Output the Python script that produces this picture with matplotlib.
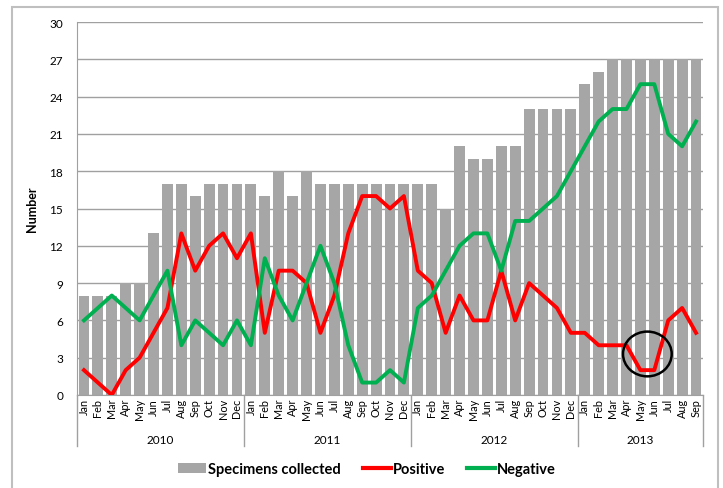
import matplotlib
matplotlib.use("Agg")
import matplotlib.pyplot as plt
from matplotlib.patches import Ellipse, Rectangle, Patch
from matplotlib.lines import Line2D
import matplotlib.transforms as mtransforms

plt.rcParams['font.family'] = ['Lato', 'DejaVu Sans']

# Monthly data, Jan 2010 - Sep 2013
months = ["Jan", "Feb", "Mar", "Apr", "May", "Jun",
          "Jul", "Aug", "Sep", "Oct", "Nov", "Dec"] * 3 + \
         ["Jan", "Feb", "Mar", "Apr", "May", "Jun", "Jul", "Aug", "Sep"]
years = ["2010", "2011", "2012", "2013"]
year_counts = [12, 12, 12, 9]

specimens = [8, 8, 8, 9, 9, 13, 17, 17, 16, 17, 17, 17,
             17, 16, 18, 16, 18, 17, 17, 17, 17, 17, 17, 17,
             17, 17, 15, 20, 19, 19, 20, 20, 23, 23, 23, 23,
             25, 26, 27, 27, 27, 27, 27, 27, 27]
positive = [2, 1, 0, 2, 3, 5, 7, 13, 10, 12, 13, 11,
            13, 5, 10, 10, 9, 5, 8, 13, 16, 16, 15, 16,
            10, 9, 5, 8, 6, 6, 10, 6, 9, 8, 7, 5,
            5, 4, 4, 4, 2, 2, 6, 7, 5]
negative = [6, 7, 8, 7, 6, 8, 10, 4, 6, 5, 4, 6,
            4, 11, 8, 6, 9, 12, 9, 4, 1, 1, 2, 1,
            7, 8, 10, 12, 13, 13, 10, 14, 14, 15, 16, 18,
            20, 22, 23, 23, 25, 25, 21, 20, 22]

x = list(range(len(months)))

fig = plt.figure(figsize=(7.23, 4.89), dpi=100)
ax = fig.add_axes([77 / 723, 93 / 489, 626 / 723, 373 / 489])

# outer frame
fig.patches.append(Rectangle((12 / 723, -0.05), 706 / 723, 1 - 8 / 489 + 0.05,
                             transform=fig.transFigure, fill=False,
                             edgecolor="#bfbfbf", linewidth=1.5))

ax.bar(x, specimens, width=0.78, color="#a6a6a6", zorder=2)
ax.plot(x, positive, color="#ff0000", linewidth=2.8, zorder=3)
ax.plot(x, negative, color="#00b050", linewidth=2.8, zorder=3)

ax.add_patch(Ellipse((40.5, 3.3), 3.5, 3.6, fill=False, edgecolor="black",
                     linewidth=1.8, zorder=4))

ax.set_xlim(-0.5, len(months) - 0.5)
ax.set_ylim(0, 30)
ax.set_yticks(range(0, 31, 3))
ax.yaxis.grid(True, color="#a0a0a0", linewidth=1, zorder=0)
ax.set_axisbelow(True)
ax.tick_params(axis="y", length=0, labelsize=8.5, pad=10)
ax.set_ylabel("Number", fontsize=9, fontweight="bold", labelpad=8)

ax.set_xticks(x)
ax.set_xticklabels(months, rotation=90, fontsize=7.8)
ax.tick_params(axis="x", length=0, pad=2)

for s in ["top", "right"]:
    ax.spines[s].set_visible(False)
ax.spines["left"].set_color("#a0a0a0")
ax.spines["bottom"].set_color("#a0a0a0")

# year group separators and labels
trans = mtransforms.blended_transform_factory(ax.transData, ax.transAxes)
edge = -0.5
ax.plot([edge, edge], [0, -0.137], transform=trans, color="#a0a0a0",
        linewidth=1, clip_on=False)
for yr, n in zip(years, year_counts):
    ax.text(edge + n / 2, -0.118, yr, transform=trans, ha="center",
            va="center", fontsize=8.5)
    edge += n
    ax.plot([edge, edge], [0, -0.137], transform=trans, color="#a0a0a0",
            linewidth=1, clip_on=False)

handles = [Patch(facecolor="#a6a6a6", edgecolor="none"),
           Line2D([], [], color="#ff0000", linewidth=3),
           Line2D([], [], color="#00b050", linewidth=3)]
fig.legend(handles, ["Specimens collected", "Positive", "Negative"],
           loc="center", bbox_to_anchor=(367 / 723, 1 - 470 / 489), ncol=3,
           frameon=False, prop={"weight": "bold", "size": 10.5},
           handlelength=1.9, handletextpad=0.15, columnspacing=1.5)

fig.savefig("out.png", dpi=100)
